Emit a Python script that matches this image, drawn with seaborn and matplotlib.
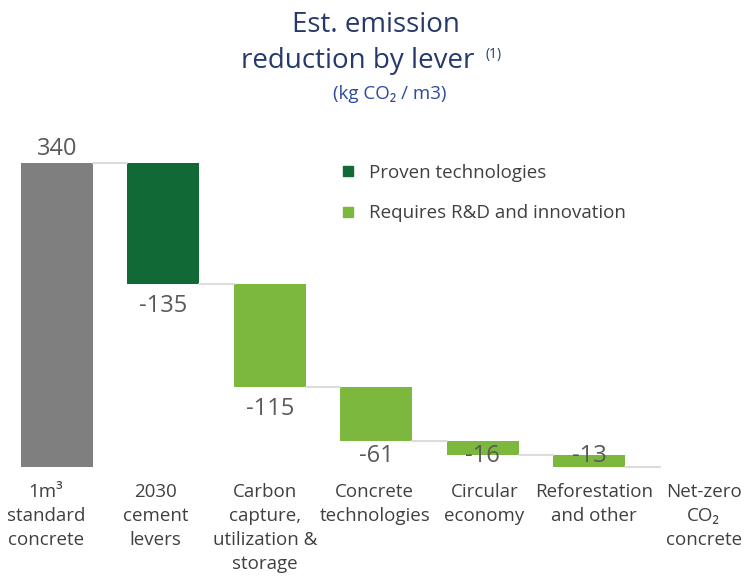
import matplotlib
matplotlib.use("Agg")
import matplotlib.pyplot as plt
import matplotlib.transforms as mtransforms
from matplotlib.lines import Line2D
import seaborn as sns
import numpy as np

# ---- data ----
categories = ["1m³\nstandard\nconcrete", "2030\ncement\nlevers",
              "Carbon\ncapture,\nutilization &\nstorage", "Concrete\ntechnologies",
              "Circular\neconomy", "Reforestation\nand other", "Net-zero\nCO₂\nconcrete"]
values = [340, -135, -115, -61, -16, -13]
value_labels = ["340", "-135", "-115", "-61", "-16", "-13"]
groups = ["base", "proven", "rd", "rd", "rd", "rd"]
legend_labels = ["Proven technologies", "Requires R&D and innovation"]

colors = {"base": "#7f7f7f", "proven": "#116a36", "rd": "#7cb83e"}

# running totals
tops, bottoms, ends = [], [], []
running = 0
for v in values:
    start = running
    running = running + v
    tops.append(max(start, running))
    bottoms.append(min(start, running))
    ends.append(running)
heights = [t - b for t, b in zip(tops, bottoms)]

sns.set_theme(style="white")
plt.rcParams["font.family"] = ["Open Sans", "DejaVu Sans"]

fig = plt.figure(figsize=(7.46, 5.76), dpi=100)
ax = fig.add_axes([0, 109 / 576, 1, (467 - 100) / 576])

bar_w = 72 / 106.5
for g in ["base", "proven", "rd"]:
    idx = [i for i, gg in enumerate(groups) if gg == g]
    sns.barplot(x=[categories[i] for i in idx], y=[heights[i] for i in idx],
                bottom=[bottoms[i] for i in idx], order=categories,
                color=colors[g], saturation=1, width=bar_w, ax=ax,
                edgecolor="none", linewidth=0)

ax.set_xlim(-56.7 / 106.5, (746 - 56.7) / 106.5)
ax.set_ylim(0, (467 - 100) / 0.894)

# connectors
for i, lvl in enumerate(ends):
    ax.plot([i + bar_w / 2, i + 1 - bar_w / 2], [lvl, lvl], color="#dcdcdc",
            lw=1.5, clip_on=False, zorder=1)

# value labels
for i, (v, lab) in enumerate(zip(values, value_labels)):
    if v > 0:
        ax.annotate(lab, (i, tops[i]), xytext=(0, 2), textcoords="offset pixels",
                    ha="center", va="bottom", fontsize=17, color="#595959")
    else:
        y = max(bottoms[i] - 12, 26)
        ax.annotate(lab, (i, y), xytext=(0, 0), textcoords="offset pixels",
                    ha="center", va="top", fontsize=17, color="#595959", zorder=5)

# axes styling
for s in ax.spines.values():
    s.set_visible(False)
ax.set_yticks([])
ax.set_xlabel("")
ax.set_ylabel("")
ax.tick_params(axis="x", length=0, pad=11.5, labelsize=13.5, labelcolor="#404040")
for i, t in enumerate(ax.get_xticklabels()):
    t.set_linespacing(1.42)
    dx = (-10.7 + 3.1 * i) / 100
    t.set_transform(t.get_transform() + mtransforms.ScaledTranslation(dx, 0, fig.dpi_scale_trans))

# legend
handles = [Line2D([], [], marker="s", ls="", color=colors["proven"], markersize=7),
           Line2D([], [], marker="s", ls="", color=colors["rd"], markersize=7)]
leg = ax.legend(handles, legend_labels, loc="upper left",
                bbox_to_anchor=(340 / 746, 1 - 164 / 576), bbox_transform=fig.transFigure,
                frameon=False, fontsize=13.5, handlelength=0.8, handletextpad=0.75,
                labelspacing=1.2, borderpad=0, borderaxespad=0)
for t in leg.get_texts():
    t.set_color("#404040")

# titles
title_c = "#253a6b"
fig.text(376 / 746, 1 - 11 / 576, "Est. emission", ha="center", va="top",
         fontsize=20, color=title_c)
fig.text(358 / 746, 1 - 68 / 576, "reduction by lever", ha="center", va="baseline",
         fontsize=20, color=title_c)
fig.text(485 / 746, 1 - 58 / 576, "(1)", ha="left", va="baseline",
         fontsize=10, color=title_c)
fig.text(390 / 746, 1 - 85 / 576, "(kg CO₂ / m3)", ha="center", va="top",
         fontsize=13.5, color="#2d4a9c")

fig.savefig("out.png", dpi=100)
